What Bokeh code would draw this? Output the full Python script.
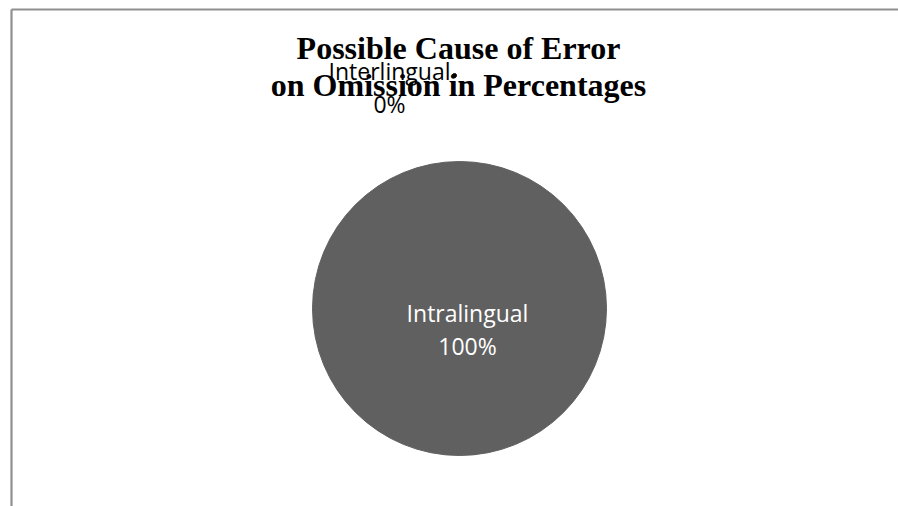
import math
from bokeh.plotting import figure
from bokeh.models import Range1d, ColumnDataSource
from bokeh.core.properties import value
from bokeh.embed import file_html
from bokeh.resources import INLINE

# Chart data
categories = ["Interlingual", "Intralingual"]
values = [0, 100]
title_lines = ["Possible Cause of Error", "on Omission in Percentages"]

W, H = 898, 506
p = figure(width=W, height=H, output_backend="svg", toolbar_location=None,
           x_range=Range1d(0, W), y_range=Range1d(H, 0), min_border=0)
p.axis.visible = False
p.grid.visible = False
p.outline_line_color = None
p.background_fill_color = "white"
p.border_fill_color = "white"

# Chart-area frame (top and left edges are visible)
p.segment(x0=[11, 11], y0=[9, 9], x1=[W + 2, 11], y1=[9, H + 2],
          line_color="#8f8f8f", line_width=2.2)

# Pie: slices start at 12 o'clock and run clockwise
cx, cy, r = 459, 308, 147
total = sum(values)
starts, ends = [], []
acc = 0.0
for v in values:
    a0 = -math.pi / 2 + 2 * math.pi * acc / total
    acc += v
    a1 = -math.pi / 2 + 2 * math.pi * acc / total
    starts.append(a0)
    ends.append(a1)
colors = ["#a0a0a0", "#606060"]
for i, v in enumerate(values):
    if v <= 0:
        continue
    span = ends[i] - starts[i]
    if span >= 2 * math.pi - 1e-9:
        p.scatter(x=[cx], y=[cy], size=2 * r, marker="circle",
                  fill_color=colors[i], line_color=colors[i])
    else:
        p.wedge(x=cx, y=cy, radius=r, start_angle=starts[i], end_angle=ends[i],
                fill_color=colors[i], line_color="white")

# Title
p.text(x=[458, 458], y=[47, 84], text=title_lines,
       text_font=value("Liberation Serif"), text_font_style="bold",
       text_font_size="32px", text_align="center", text_baseline="alphabetic",
       text_color="black")

# Data labels: name on one line, percentage below
pct = [f"{round(100 * v / total)}%" for v in values]
label_pos = {"Interlingual": (cx - 70, 70, "black"),
             "Intralingual": (cx + 8, 312, "white")}
for name, pc in zip(categories, pct):
    lx, ly, col = label_pos[name]
    p.text(x=[lx], y=[ly], text=[name], text_font=value("Open Sans"),
           text_font_size="23px", text_align="center",
           text_baseline="alphabetic", text_color=col)
    p.text(x=[lx], y=[ly + 33], text=[pc], text_font=value("Open Sans"),
           text_font_size="23px", text_align="center",
           text_baseline="alphabetic", text_color=col)

# Leader dot of the zero-size slice
p.scatter(x=[label_pos["Interlingual"][0] + 65], y=[75], size=4,
          marker="circle", fill_color="black", line_color="black")

open("out.html", "w").write(file_html(p, INLINE))
